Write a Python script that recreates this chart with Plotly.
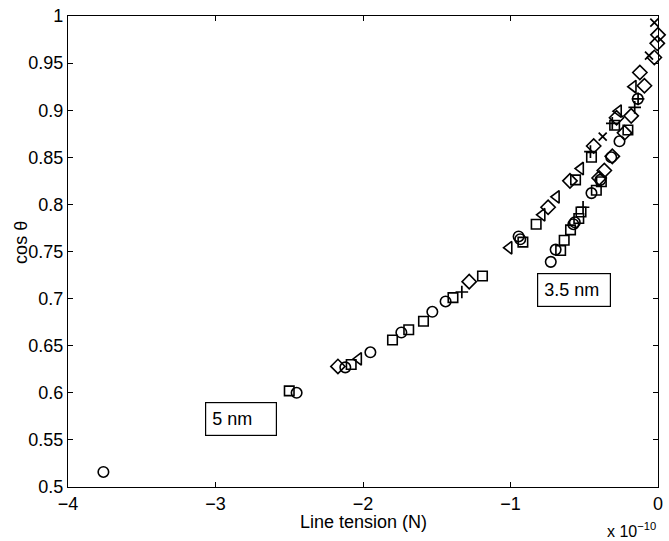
import plotly.graph_objects as go

# Line tension in units of 1e-10 N, cos(theta)
circle_x = [-3.76, -2.45, -2.12, -1.95, -1.74, -1.53, -1.44, -0.945, -0.934, -0.727, -0.694,
            -0.574, -0.564, -0.451, -0.391, -0.317, -0.261, -0.137]
circle_y = [0.516, 0.600, 0.627, 0.643, 0.664, 0.686, 0.697, 0.766, 0.763, 0.739, 0.752,
            0.779, 0.781, 0.812, 0.826, 0.850, 0.867, 0.912]

square_x = [-2.50, -2.08, -1.80, -1.69, -1.59, -1.39, -1.19, -0.916, -0.826, -0.559, -0.451,
            -0.660, -0.636, -0.593, -0.537, -0.522, -0.418, -0.384, -0.294, -0.204]
square_y = [0.602, 0.630, 0.656, 0.667, 0.676, 0.701, 0.724, 0.760, 0.779, 0.826, 0.850,
            0.751, 0.762, 0.773, 0.785, 0.792, 0.815, 0.824, 0.884, 0.879]

diamond_x = [-2.17, -1.28, -0.745, -0.597, -0.436, -0.399, -0.364, -0.281, -0.227, -0.182,
             -0.123, -0.092, -0.025, -0.005, 0.0, -0.31]
diamond_y = [0.628, 0.718, 0.797, 0.825, 0.862, 0.828, 0.836, 0.892, 0.876, 0.894,
             0.940, 0.926, 0.956, 0.971, 0.980, 0.851]

triangle_x = [-2.03, -1.01, -0.786, -0.689, -0.525, -0.268, -0.168]
triangle_y = [0.636, 0.754, 0.789, 0.808, 0.838, 0.899, 0.925]

plus_x = [-1.33, -0.508, -0.458, -0.310, -0.158, -0.135]
plus_y = [0.707, 0.797, 0.856, 0.886, 0.903, 0.912]

cross_x = [-0.025, -0.061, -0.375]
cross_y = [0.993, 0.958, 0.872]

x_ticks = [-4, -3, -2, -1, 0]
x_tick_labels = ["\u22124", "\u22123", "\u22122", "\u22121", "0"]
y_ticks = [0.5, 0.55, 0.6, 0.65, 0.7, 0.75, 0.8, 0.85, 0.9, 0.95, 1.0]
y_tick_labels = ["0.5", "0.55", "0.6", "0.65", "0.7", "0.75", "0.8", "0.85", "0.9", "0.95", "1"]

FONT = "Liberation Sans, Arial, sans-serif"

fig = go.Figure()

def add(xs, ys, symbol, size, lw=1.6):
    fig.add_trace(go.Scatter(
        x=xs, y=ys, mode="markers", cliponaxis=False, showlegend=False,
        marker=dict(symbol=symbol, size=size, color="black",
                    line=dict(color="black", width=lw))))

add(circle_x, circle_y, "circle-open", 10.5)
add(square_x, square_y, "square-open", 9.5)
add(diamond_x, diamond_y, "diamond-open", 11)
add(triangle_x, triangle_y, "triangle-left-open", 11)
add(plus_x, plus_y, "cross-thin-open", 9, 1.7)
add(cross_x, cross_y, "x-thin-open", 8, 1.7)

axis_common = dict(showline=True, linecolor="black", linewidth=1.2, mirror="allticks",
                   ticks="inside", ticklen=5, tickcolor="black", tickwidth=1.2,
                   showgrid=False, zeroline=False,
                   tickfont=dict(family=FONT, size=18, color="black"))

fig.update_xaxes(range=[-4, 0], tickvals=x_ticks, ticktext=x_tick_labels, **axis_common)
fig.update_yaxes(range=[0.5, 1], tickvals=y_ticks, ticktext=y_tick_labels, **axis_common)

fig.add_annotation(text="Line tension (N)", xref="paper", yref="paper", x=0.5, y=-0.0745,
                   xanchor="center", yanchor="middle", showarrow=False,
                   font=dict(family=FONT, size=18, color="black"))
fig.add_annotation(text="x 10<sup>\u221210</sup>", xref="paper", yref="paper", x=1.0, y=-0.092,
                   xanchor="right", yanchor="middle", showarrow=False,
                   font=dict(family=FONT, size=16, color="black"))
fig.add_annotation(text="cos \u03b8", xref="paper", yref="paper", x=-0.08, y=0.52,
                   xanchor="center", yanchor="middle",
                   textangle=-90, showarrow=False, font=dict(family=FONT, size=18, color="black"))

fig.add_annotation(text="5 nm", x=-2.83, y=0.572, showarrow=False, width=58, align="left",
                   xanchor="center", yanchor="middle",
                   bordercolor="black", borderwidth=1.2, borderpad=6, bgcolor="white",
                   font=dict(family=FONT, size=18, color="black"))
fig.add_annotation(text="3.5 nm", x=-0.57, y=0.709, showarrow=False, width=60, align="left",
                   xanchor="center", yanchor="middle",
                   bordercolor="black", borderwidth=1.2, borderpad=6, bgcolor="white",
                   font=dict(family=FONT, size=18, color="black"))

fig.update_layout(width=669, height=541, margin=dict(l=68, r=6, t=16, b=54),
                  plot_bgcolor="white", paper_bgcolor="white")

fig.write_html("out.html")
